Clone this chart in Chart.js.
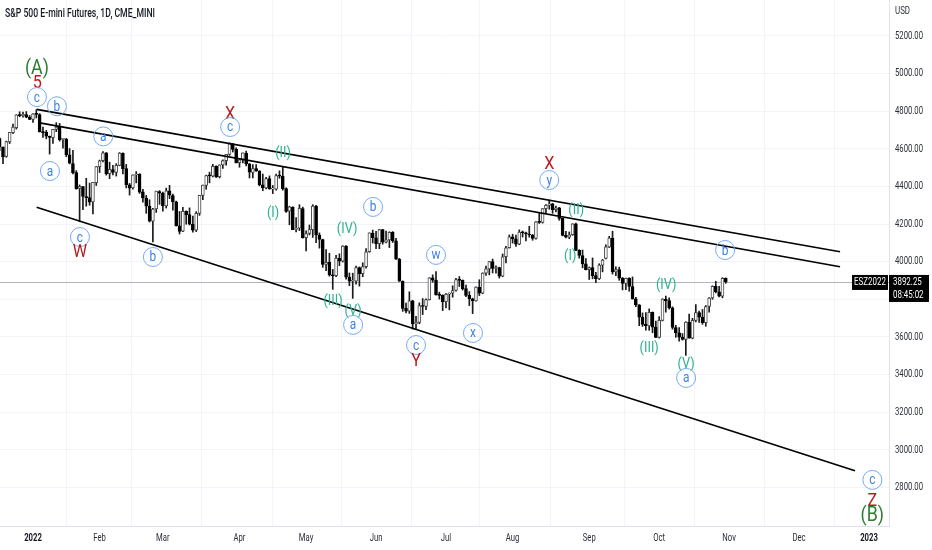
<!DOCTYPE html>
<html>
<head>
<meta charset="utf-8">
<title>S&amp;P 500 E-mini Futures, 1D</title>
<script src="https://cdn.jsdelivr.net/npm/chart.js@4.4.0/dist/chart.umd.min.js"></script>
<style>
    body { margin: 0; background: #ffffff; }
    #wrap { width: 932px; height: 550px; position: relative; }
</style>
</head>
<body>
<div id="wrap"><canvas id="chart"></canvas></div>
<script>
// data ----------------------------------------------------------------------
// one row per session, first row = 16 Dec 2021 (11 sessions before 3 Jan 2022)
let firstSession = -11;

let openP = [
    4712, 4655, 4608, 4560, 4637, 4686, 4712, 4780, 4776, 4782, 4769, // Dec
    4756, 4785, 4782, 4690, 4687, 4666, 4659, 4703, 4716, 4650, 4652, 4568, 4522, 4473, 4390, 4399, 4346, 4341, 4318, 4420, // Jan
    4505, 4537, 4578, 4468, 4490, 4474, 4512, 4576, 4495, 4408, 4392, 4461, 4465, 4371, 4338, 4296, 4215, 4280, 4372, // Feb
    4364, 4296, 4377, 4352, 4318, 4191, 4162, 4268, 4250, 4199, 4168, 4257, 4352, 4406, 4457, 4455, 4507, 4452, 4514, 4537, 4570, 4626, 4597, // Mar
    4526, 4540, 4577, 4520, 4475, 4495, 4482, 4408, 4392, 4442, 4386, 4386, 4458, 4454, 4388, 4268, 4290, 4171, 4178, 4282, // Apr
    4127, 4150, 4170, 4295, 4142, 4118, 3986, 3996, 3930, 3925, 4019, 4003, 4083, 3918, 3896, 3896, 3969, 3936, 3974, 4053, 4152, // May
    4127, 4096, 4170, 4104, 4116, 4156, 4111, 4013, 3896, 3752, 3737, 3792, 3669, 3677, 3767, 3762, 3798, 3914, 3902, 3823, 3821, // Jun
    3787, 3827, 3833, 3847, 3905, 3901, 3857, 3821, 3803, 3792, 3865, 3833, 3939, 3962, 4001, 3964, 3969, 3923, 4026, 4074, // Jul
    4132, 4121, 4093, 4157, 4154, 4147, 4142, 4124, 4212, 4209, 4282, 4299, 4307, 4277, 4286, 4230, 4140, 4130, 4143, 4201, 4060, 4033, 3988, // Aug
    3957, 3969, 3926, 3910, 3982, 4018, 4079, 4125, 3945, 3958, 3913, 3885, 3912, 3868, 3802, 3770, 3705, 3667, 3659, 3731, 3652, // Sep
    3598, 3688, 3801, 3793, 3755, 3650, 3622, 3599, 3587, 3679, 3593, 3688, 3730, 3705, 3676, 3762, 3807, 3869, 3840, 3817, 3911  // Oct
];

let highP = [
    4721, 4658, 4610, 4641, 4687, 4731, 4781, 4797, 4795, 4798, 4777,
    4787, 4808, 4787, 4715, 4698, 4668, 4704, 4739, 4735, 4656, 4655, 4601, 4592, 4484, 4408, 4401, 4443, 4418, 4422, 4506,
    4540, 4585, 4580, 4529, 4512, 4521, 4580, 4578, 4517, 4416, 4462, 4479, 4468, 4384, 4352, 4329, 4284, 4375, 4378,
    4370, 4391, 4406, 4360, 4322, 4267, 4289, 4270, 4286, 4242, 4266, 4353, 4407, 4460, 4476, 4517, 4510, 4515, 4541, 4570, 4632, 4628, 4605,
    4543, 4578, 4588, 4522, 4516, 4516, 4484, 4466, 4448, 4456, 4405, 4466, 4483, 4507, 4392, 4295, 4292, 4235, 4303, 4290,
    4164, 4195, 4303, 4300, 4153, 4120, 4064, 4045, 3959, 4034, 4042, 4085, 4086, 3940, 3939, 3976, 3972, 3994, 4070, 4153, 4168,
    4161, 4172, 4172, 4163, 4159, 4160, 4124, 4018, 3898, 3780, 3840, 3795, 3710, 3781, 3804, 3803, 3915, 3930, 3947, 3838, 3824,
    3831, 3834, 3872, 3912, 3921, 3903, 3876, 3841, 3806, 3866, 3904, 3941, 3977, 4001, 4014, 3978, 3971, 4041, 4081, 4142,
    4146, 4142, 4169, 4163, 4158, 4188, 4145, 4213, 4259, 4282, 4303, 4327, 4310, 4295, 4289, 4232, 4162, 4158, 4202, 4205, 4064, 4062, 4017,
    3972, 4020, 3944, 3989, 4012, 4089, 4135, 4162, 3973, 3971, 3916, 3913, 3915, 3919, 3810, 3772, 3728, 3729, 3749, 3733, 3684,
    3708, 3803, 3817, 3808, 3760, 3662, 3650, 3618, 3681, 3722, 3699, 3772, 3738, 3746, 3767, 3809, 3872, 3896, 3869, 3915, 3914
];

let lowP = [
    4641, 4590, 4521, 4555, 4628, 4680, 4705, 4770, 4768, 4765, 4755,
    4740, 4764, 4689, 4661, 4653, 4572, 4628, 4691, 4641, 4604, 4558, 4520, 4467, 4385, 4212, 4277, 4295, 4300, 4254, 4405,
    4474, 4530, 4460, 4441, 4461, 4455, 4510, 4467, 4392, 4354, 4385, 4419, 4363, 4317, 4257, 4211, 4105, 4262, 4305,
    4269, 4285, 4335, 4274, 4189, 4147, 4160, 4199, 4195, 4157, 4160, 4246, 4330, 4385, 4419, 4450, 4447, 4445, 4496, 4513, 4565, 4583, 4525,
    4502, 4525, 4509, 4445, 4445, 4480, 4403, 4377, 4387, 4385, 4362, 4380, 4443, 4380, 4262, 4196, 4170, 4158, 4165, 4125,
    4057, 4142, 4129, 4101, 4072, 3970, 3952, 3923, 3853, 3920, 3979, 3998, 3907, 3872, 3805, 3880, 3870, 3920, 3965, 4050, 4099,
    4069, 4069, 4093, 4100, 4075, 4102, 4012, 3895, 3736, 3727, 3725, 3642, 3638, 3670, 3719, 3745, 3796, 3891, 3822, 3801, 3740,
    3754, 3744, 3811, 3843, 3868, 3849, 3814, 3767, 3724, 3790, 3820, 3830, 3927, 3930, 3940, 3939, 3913, 3920, 3994, 4072,
    4099, 4081, 4090, 4131, 4110, 4130, 4114, 4120, 4203, 4205, 4258, 4279, 4257, 4264, 4220, 4137, 4126, 4122, 4140, 4059, 4019, 3967, 3956,
    3905, 3909, 3888, 3905, 3946, 4015, 4075, 3934, 3925, 3901, 3850, 3851, 3843, 3801, 3761, 3660, 3656, 3636, 3635, 3622, 3596,
    3594, 3685, 3732, 3748, 3641, 3598, 3578, 3583, 3502, 3594, 3590, 3680, 3677, 3667, 3657, 3732, 3800, 3834, 3813, 3808, 3885
];

let closeP = [
    4658, 4610, 4558, 4639, 4687, 4715, 4781, 4776, 4783, 4768, 4756,
    4786, 4783, 4691, 4686, 4667, 4660, 4703, 4716, 4649, 4653, 4567, 4523, 4473, 4388, 4400, 4347, 4340, 4317, 4422, 4506,
    4536, 4579, 4467, 4491, 4474, 4512, 4577, 4494, 4409, 4391, 4462, 4465, 4370, 4339, 4295, 4216, 4279, 4375, 4364,
    4296, 4377, 4353, 4319, 4191, 4161, 4268, 4250, 4199, 4168, 4257, 4353, 4407, 4458, 4456, 4507, 4451, 4515, 4538, 4570, 4627, 4597, 4525,
    4541, 4578, 4520, 4476, 4495, 4483, 4408, 4392, 4442, 4387, 4386, 4458, 4454, 4388, 4267, 4291, 4170, 4178, 4283, 4127,
    4150, 4170, 4296, 4142, 4118, 3986, 3996, 3930, 3925, 4019, 4003, 4083, 3918, 3896, 3896, 3969, 3936, 3974, 4053, 4153, 4127,
    4096, 4171, 4104, 4116, 4156, 4111, 4013, 3896, 3752, 3737, 3792, 3669, 3677, 3767, 3762, 3798, 3914, 3902, 3823, 3821, 3787,
    3827, 3833, 3847, 3905, 3901, 3857, 3821, 3803, 3792, 3865, 3833, 3939, 3962, 4001, 3964, 3969, 3923, 4026, 4074, 4132,
    4121, 4093, 4157, 4154, 4147, 4142, 4124, 4212, 4209, 4282, 4299, 4307, 4277, 4286, 4230, 4140, 4130, 4143, 4201, 4060, 4033, 3988, 3957,
    3969, 3926, 3910, 3982, 4008, 4079, 4125, 3945, 3958, 3913, 3885, 3912, 3868, 3802, 3770, 3705, 3667, 3659, 3731, 3652, 3598,
    3688, 3801, 3793, 3755, 3650, 3622, 3599, 3587, 3679, 3593, 3688, 3730, 3705, 3676, 3762, 3807, 3869, 3840, 3817, 3911, 3892.25
];

// month ticks (session number, 0 = 3 Jan 2022)
let monthTicks = [0, 20, 39, 62, 82, 103, 124, 144, 167, 188, 209, 230, 251];
let monthLabels = ['2022', 'Feb', 'Mar', 'Apr', 'May', 'Jun', 'Jul', 'Aug', 'Sep', 'Oct', 'Nov', 'Dec', '2023'];
let priceTicks = [2800, 3000, 3200, 3400, 3600, 3800, 4000, 4200, 4400, 4600, 4800, 5000, 5200];

// channel lines [session, price] -> [session, price]
let upperLine = [[1.1, 4810], [242.3, 4053]];
let middleLine = [[1.6, 4739], [242.3, 3973]];
let lowerLine = [[1.1, 4289], [246.8, 2889]];

// wave count: text, session, price, kind
let waveLabels = [
    ['(A)', 1.2, 5030, 'major'], ['5', 1.3, 4955, 'red'], ['c', 1.2, 4875, 'circle'],
    ['b', 7.2, 4826, 'circle'], ['a', 21.1, 4666, 'circle'], ['a', 5.1, 4482, 'circle'],
    ['c', 14.1, 4131, 'circle'], ['W', 14.1, 4057, 'red'], ['b', 36.0, 4025, 'circle'],
    ['X', 59.2, 4790, 'red'], ['c', 59.2, 4716, 'circle'],
    ['(II)', 75.1, 4583, 'minor'], ['(I)', 72.1, 4264, 'minor'],
    ['(IV)', 94.3, 4179, 'minor'], ['b', 102.1, 4291, 'circle'],
    ['(III)', 90.1, 3796, 'minor'], ['(V)', 96.1, 3743, 'minor'], ['a', 96.1, 3664, 'circle'],
    ['w', 121.0, 4036, 'circle'], ['c', 115.0, 3557, 'circle'], ['Y', 115.0, 3478, 'red'],
    ['x', 132.1, 3621, 'circle'],
    ['X', 155.0, 4525, 'red'], ['y', 155.0, 4434, 'circle'],
    ['(II)', 163.1, 4280, 'minor'], ['(I)', 161.3, 4036, 'minor'],
    ['b', 207.8, 4062, 'circle'], ['(IV)', 190.1, 3881, 'minor'],
    ['(III)', 185.0, 3547, 'minor'], ['(V)', 196.1, 3462, 'minor'], ['a', 196.1, 3382, 'circle'],
    ['c', 252.0, 2840, 'circle'], ['Z', 252.0, 2734, 'red'], ['(B)', 252.0, 2654, 'major']
];

let symbolName = 'ESZ2022';
let countdown = '08:45:02';

// build datasets ---------------------------------------------------------------
function sessionX(i) {
    return i + firstSession;
}

let wickData = lowP.map((l, i) => ({ x: sessionX(i), y: [l, highP[i]] }));
let bodyData = openP.map((o, i) => ({ x: sessionX(i), y: [o, closeP[i]] }));

function lineData(pts) {
    return pts.map(p => ({ x: p[0], y: p[1] }));
}

function lineSet(pts) {
    return {
        type: 'line',
        data: lineData(pts),
        borderColor: '#000000',
        borderWidth: 1.7,
        pointRadius: 0,
        fill: false,
        tension: 0,
        order: 1
    };
}

function isUp(i) {
    return closeP[i] >= openP[i];
}

// text helpers -----------------------------------------------------------------
const FONT = 'Roboto, "Liberation Sans", sans-serif';

function squeezeText(ctx, txt, x, y, sx, align) {
    ctx.save();
    ctx.translate(x, y);
    ctx.scale(sx, 1);
    ctx.textAlign = align;
    ctx.fillText(txt, 0, 0);
    ctx.restore();
}

let waveStyle = {
    major: { font: '21px ' + FONT, color: '#2e7d32' },
    red: { font: '19px ' + FONT, color: '#b71c1c' },
    minor: { font: '15px ' + FONT, color: '#2bb391' },
    circle: { font: '14px ' + FONT, color: '#3b82e6' }
};

const overlay = {
    id: 'overlay',
    beforeDatasetsDraw(chart) {
        // last price line
        let ctx = chart.ctx;
        let area = chart.chartArea;
        let y = Math.round(chart.scales.y.getPixelForValue(closeP[closeP.length - 1])) + 0.5;
        ctx.save();
        ctx.strokeStyle = '#b2b5be';
        ctx.lineWidth = 1;
        ctx.beginPath();
        ctx.moveTo(area.left, y);
        ctx.lineTo(area.right, y);
        ctx.stroke();
        ctx.restore();
    },
    afterDatasetsDraw(chart) {
        let ctx = chart.ctx;
        let xs = chart.scales.x;
        let ys = chart.scales.y;
        ctx.save();
        ctx.textBaseline = 'middle';
        waveLabels.forEach(w => {
            let px = xs.getPixelForValue(w[1]);
            let py = ys.getPixelForValue(w[2]);
            let st = waveStyle[w[3]];
            if (w[3] == 'circle') {
                ctx.strokeStyle = '#74aaf5';
                ctx.lineWidth = 1;
                ctx.beginPath();
                ctx.arc(px, py, 9.5, 0, Math.PI * 2);
                ctx.stroke();
            }
            ctx.font = st.font;
            ctx.fillStyle = st.color;
            squeezeText(ctx, w[0], px, py + 1, 0.85, 'center');
        });
        ctx.restore();
    },
    afterDraw(chart) {
        let ctx = chart.ctx;
        let xs = chart.scales.x;
        let ys = chart.scales.y;
        let area = chart.chartArea;
        ctx.save();
        ctx.textBaseline = 'middle';

        // title
        ctx.fillStyle = '#131722';
        ctx.font = '500 12px ' + FONT;
        squeezeText(ctx, 'S&P 500 E-mini Futures, 1D, CME_MINI', 5, 14, 0.72, 'left');

        // price axis
        ctx.font = '11px ' + FONT;
        ctx.fillStyle = '#2a2e39';
        squeezeText(ctx, 'USD', area.right + 6, 11, 0.72, 'left');
        priceTicks.forEach(v => {
            squeezeText(ctx, v.toFixed(2), area.right + 6, ys.getPixelForValue(v), 0.7, 'left');
        });

        // time axis
        monthTicks.forEach((t, i) => {
            let isYear = /^\d{4}$/.test(monthLabels[i]);
            ctx.font = (isYear ? 'bold ' : '') + '11px ' + FONT;
            ctx.fillStyle = isYear ? '#131722' : '#2a2e39';
            squeezeText(ctx, monthLabels[i], xs.getPixelForValue(t), area.bottom + 12, 0.7, 'center');
        });

        // last price boxes
        let last = closeP[closeP.length - 1];
        let yp = ys.getPixelForValue(last);
        ctx.fillStyle = '#000000';
        ctx.fillRect(area.right - 37, yp - 7, 36, 15);
        ctx.fillRect(area.right, yp - 7, 40, 27);
        ctx.fillStyle = '#ffffff';
        ctx.font = '11px ' + FONT;
        squeezeText(ctx, symbolName, area.right - 19, yp + 0.5, 0.72, 'center');
        squeezeText(ctx, last.toFixed(2), area.right + 4, yp + 0.5, 0.72, 'left');
        squeezeText(ctx, countdown, area.right + 4, yp + 13.5, 0.72, 'left');
        ctx.restore();
    }
};

// chart --------------------------------------------------------------------------
let ctx = document.getElementById('chart').getContext('2d');

new Chart(ctx, {
    type: 'bar',
    data: {
        datasets: [
            {
                data: wickData,
                backgroundColor: '#1a1a1a',
                barThickness: 1,
                grouped: false,
                order: 3
            },
            {
                data: bodyData,
                backgroundColor: c => isUp(c.dataIndex) ? '#ffffff' : '#000000',
                borderColor: c => isUp(c.dataIndex) ? '#4a4a4a' : '#000000',
                borderWidth: 1,
                borderSkipped: false,
                barThickness: 3,
                minBarLength: 1,
                grouped: false,
                order: 2
            },
            lineSet(upperLine),
            lineSet(middleLine),
            lineSet(lowerLine)
        ]
    },
    options: {
        responsive: true,
        maintainAspectRatio: false,
        animation: false,
        events: [],
        layout: { padding: 0 },
        plugins: {
            legend: { display: false },
            tooltip: { enabled: false }
        },
        scales: {
            x: {
                type: 'linear',
                position: 'bottom',
                min: -9.9,
                max: 257,
                offset: false,
                grid: { color: '#f2f4f9', drawTicks: false },
                border: { display: true, color: '#e0e3eb' },
                ticks: { display: false },
                afterBuildTicks: s => { s.ticks = monthTicks.map(v => ({ value: v })); },
                afterFit: s => { s.height = 24; }
            },
            y: {
                type: 'linear',
                position: 'right',
                min: 2595,
                max: 5391,
                grid: { color: '#f2f4f9', drawTicks: false },
                border: { display: true, color: '#e0e3eb' },
                ticks: { display: false },
                afterBuildTicks: s => { s.ticks = priceTicks.map(v => ({ value: v })); },
                afterFit: s => { s.width = 43; }
            }
        }
    },
    plugins: [overlay]
});
</script>
</body>
</html>
